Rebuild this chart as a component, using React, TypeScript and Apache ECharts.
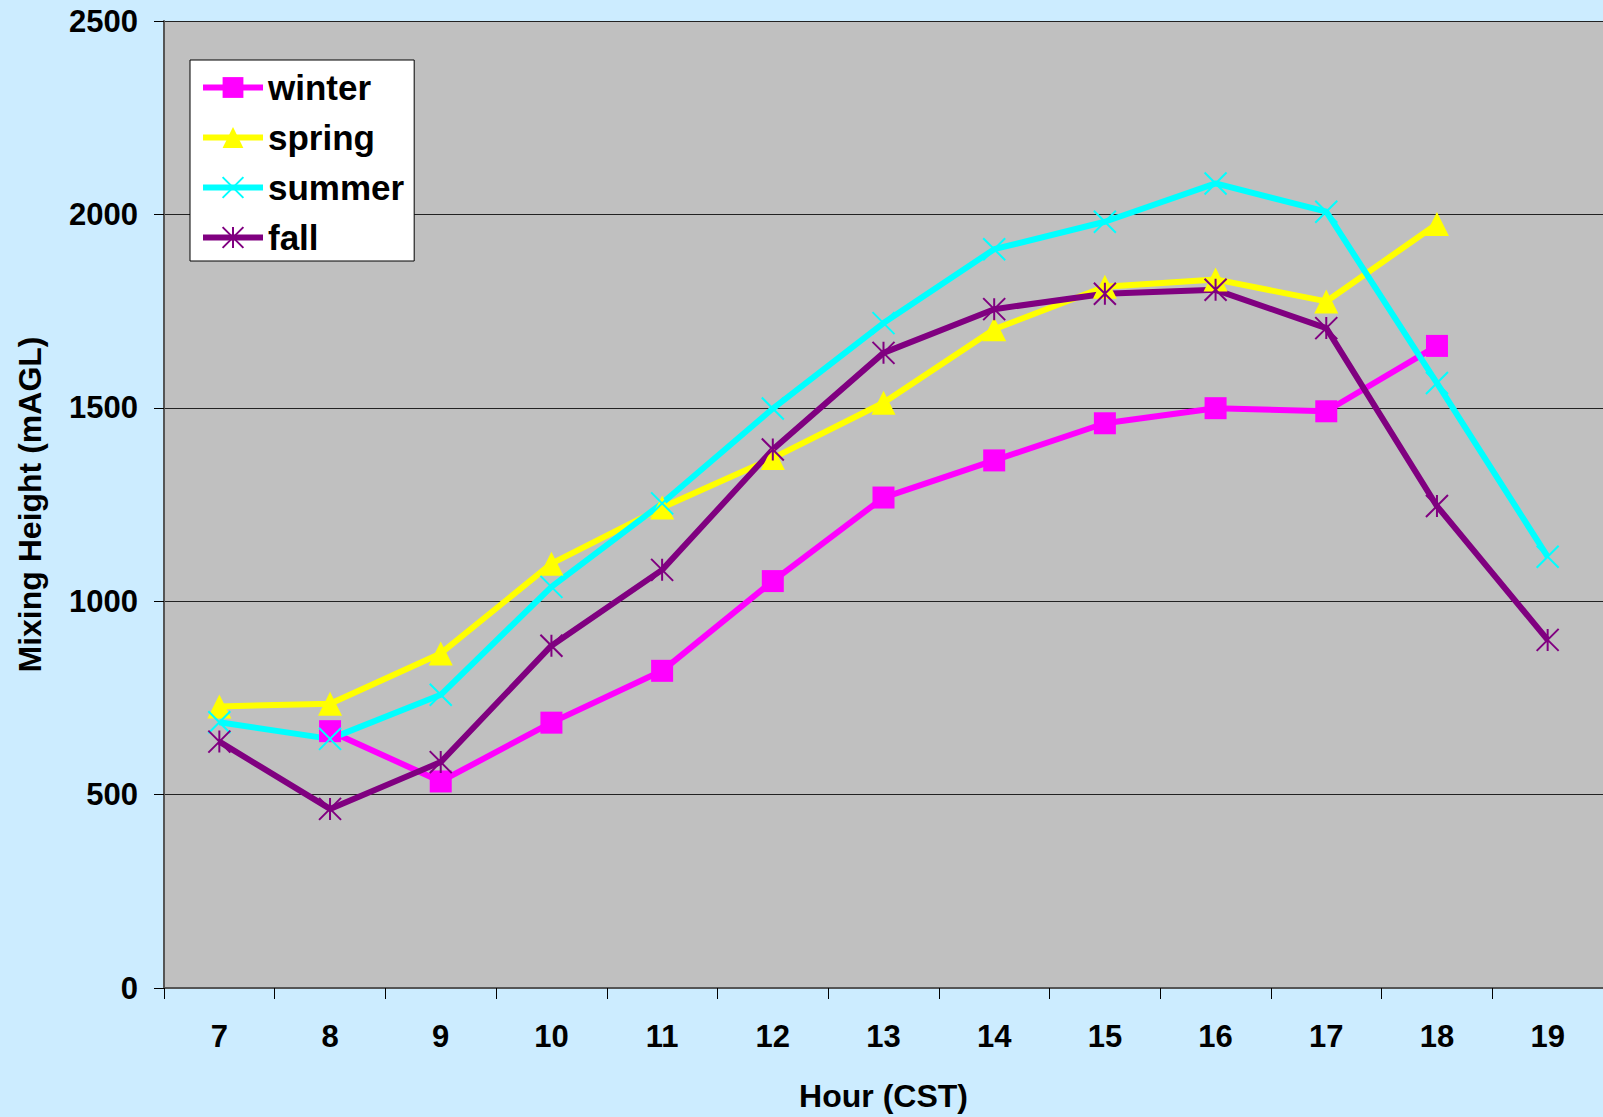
import React, { useEffect, useRef } from "react";
import * as echarts from "echarts";

// Hour of day (CST)
const hours = ["7", "8", "9", "10", "11", "12", "13", "14", "15", "16", "17", "18", "19"];

// Mean mixing height (m above ground level) per season
const winter = [null, 664, 534, 686, 820, 1052, 1268, 1364, 1460, 1499, 1491, 1660, null];
const spring = [728, 735, 865, 1097, 1242, 1370, 1513, 1703, 1813, 1832, 1775, 1975, null];
const summer = [687, 644, 758, 1037, 1253, 1498, 1719, 1910, 1981, 2080, 2007, 1564, 1115];
const fall = [637, 463, 584, 885, 1081, 1392, 1642, 1755, 1795, 1805, 1706, 1246, 900];

const yMin = 0;
const yMax = 2500;
const yStep = 500;

const FONT = '"Liberation Sans", Arial, Helvetica, sans-serif';

const CROSS = "path://M0,0L10,10M10,0L0,10";
const STAR = "path://M0,0L10,10M10,0L0,10M5,0L5,10";

function seasonSeries(name: string, data: (number | null)[], color: string, symbol: string, size: number, stroke: number) {
  return {
    name,
    type: "line",
    data,
    symbol,
    symbolSize: size,
    showAllSymbol: true,
    lineStyle: { color, width: 6 },
    itemStyle: { color, borderColor: color, borderWidth: stroke },
    emphasis: { disabled: true },
  };
}

export default function App() {
  const ref = useRef<HTMLDivElement>(null);

  useEffect(() => {
    if (!ref.current) return;
    const chart = echarts.init(ref.current, undefined, { renderer: "svg" });
    chart.setOption({
      animation: false,
      backgroundColor: "#CCECFF",
      textStyle: { fontFamily: FONT },
      grid: {
        left: 164,
        top: 21,
        width: 1442,
        height: 969,
        show: true,
        backgroundColor: "#C0C0C0",
        borderWidth: 0,
      },
      legend: {
        left: 190,
        top: 60,
        orient: "vertical",
        backgroundColor: "#FFFFFF",
        borderColor: "#000000",
        borderWidth: 1,
        borderRadius: 0,
        padding: [10, 10, 6, 10],
        itemGap: 15,
        itemWidth: 60,
        itemHeight: 26,
        lineStyle: { width: 6 },
        textStyle: { fontSize: 35, fontWeight: "bold", color: "#000", fontFamily: FONT },
        data: ["winter", "spring", "summer", "fall"],
      },
      xAxis: {
        type: "category",
        data: hours,
        boundaryGap: true,
        name: "Hour (CST)",
        nameLocation: "middle",
        nameGap: 92,
        nameTextStyle: { fontSize: 32, fontWeight: "bold", color: "#000", fontFamily: FONT },
        axisLine: { lineStyle: { color: "#555", width: 2 } },
        axisTick: { show: true, length: 11, lineStyle: { color: "#000", width: 1 } },
        axisLabel: { fontSize: 31, fontWeight: "bold", color: "#000", margin: 33, fontFamily: FONT },
        splitLine: { show: false },
      },
      yAxis: {
        type: "value",
        min: yMin,
        max: yMax,
        interval: yStep,
        name: "Mixing Height (mAGL)",
        nameLocation: "middle",
        nameRotate: 90,
        nameGap: 118,
        nameTextStyle: { fontSize: 32, fontWeight: "bold", color: "#000", fontFamily: FONT },
        axisLine: { show: true, lineStyle: { color: "#555", width: 2 } },
        axisTick: { show: true, length: 10, lineStyle: { color: "#000", width: 1 } },
        axisLabel: {
          fontSize: 31,
          fontWeight: "bold",
          color: "#000",
          margin: 26,
          fontFamily: FONT,
          formatter: (v: number) => String(v),
        },
        splitLine: { show: true, lineStyle: { color: "#222", width: 1 } },
      },
      series: [
        seasonSeries("winter", winter, "#FF00FF", "rect", 22, 0),
        seasonSeries("spring", spring, "#FFFF00", "triangle", 24, 0),
        seasonSeries("summer", summer, "#00FFFF", CROSS, 22, 2),
        seasonSeries("fall", fall, "#800080", STAR, 22, 2),
      ],
    });
    return () => chart.dispose();
  }, []);

  return (
    <div
      ref={ref}
      style={{ position: "absolute", left: 0, top: 0, width: 1603, height: 1117 }}
    />
  );
}
